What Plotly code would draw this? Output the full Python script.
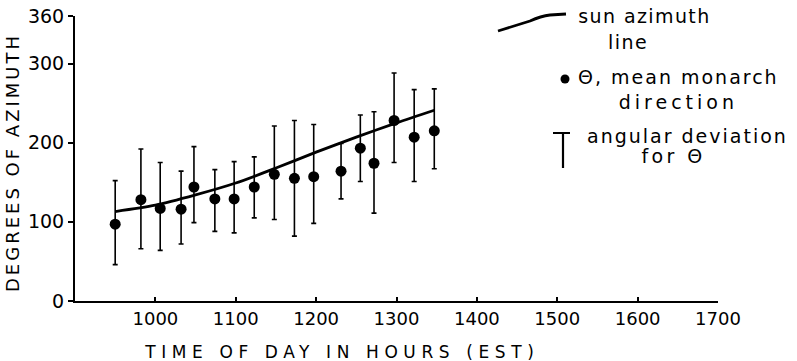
import json
import plotly.graph_objects as go

# ---- data ----
times = [950, 982, 1006, 1032, 1048, 1074, 1098, 1123, 1148, 1173, 1197, 1231, 1255, 1272, 1297, 1322, 1347]
mean_dir = [97, 128, 117, 116, 144, 129, 129, 144, 160, 155, 157, 164, 193, 174, 228, 207, 215]
dev_upper = [152, 192, 175, 164, 195, 166, 176, 182, 221, 228, 223, 199, 235, 239, 288, 267, 268]
dev_lower = [46, 66, 64, 72, 99, 88, 86, 105, 103, 82, 98, 129, 151, 111, 175, 151, 167]

sun_times = [950, 1000, 1050, 1100, 1150, 1200, 1250, 1300, 1347]
sun_azimuth = [113, 121, 134, 149, 168, 188, 207, 225, 241]

x_ticks = [1000, 1100, 1200, 1300, 1400, 1500, 1600, 1700]
y_ticks = [0, 100, 200, 300, 360]

W, H = 797, 361
ML, MR, MT, MB = 75, 79, 16, 60
FONT = "DejaVu Sans"


def px(xp):
    return (xp - ML) / (W - ML - MR)


def py(yp):
    return (H - MB - yp) / (H - MT - MB)


err_plus = [u - m for u, m in zip(dev_upper, mean_dir)]
err_minus = [m - l for m, l in zip(mean_dir, dev_lower)]

fig = go.Figure()
fig.add_trace(go.Scatter(
    x=times, y=mean_dir, mode="markers",
    marker=dict(color="black", size=11),
    error_y=dict(type="data", symmetric=False, array=err_plus, arrayminus=err_minus,
                 color="black", thickness=1.6, width=2.5),
    showlegend=False, hoverinfo="skip",
))
fig.add_trace(go.Scatter(
    x=sun_times, y=sun_azimuth, mode="lines",
    line=dict(color="black", width=2.8, shape="spline", smoothing=0.8),
    showlegend=False, hoverinfo="skip",
))

# legend graphics
shapes = [
    dict(type="path", xref="paper", yref="paper",
         path=(f"M {px(498)},{py(31)} L {px(530)},{py(21)} Q {px(541)},{py(16)} {px(550)},{py(15)} "
               f"L {px(566)},{py(14)}"),
         line=dict(color="black", width=2.8)),
    dict(type="circle", xref="paper", yref="paper",
         x0=px(560.5), x1=px(569.5), y0=py(83.5), y1=py(74.5),
         fillcolor="black", line=dict(color="black", width=0)),
    dict(type="line", xref="paper", yref="paper",
         x0=px(553), x1=px(570), y0=py(133), y1=py(133), line=dict(color="black", width=2)),
    dict(type="line", xref="paper", yref="paper",
         x0=px(563), x1=px(563), y0=py(133), y1=py(168), line=dict(color="black", width=2.2)),
]

legend_texts = [
    ("sun azimuth", 644, 16, 19, 1.4),
    ("line", 628, 42, 19, 1.5),
    ("angular deviation", 687, 136, 19, 2.0),
    ("for Θ", 673, 156, 19, 3.4),
]

annotations = []
spacing = {}
for txt, cx, cy, fs, ls in legend_texts:
    annotations.append(dict(text=txt, x=px(cx), y=py(cy), xref="paper", yref="paper",
                            xanchor="center", yanchor="middle", showarrow=False,
                            font=dict(family=FONT, size=fs, color="black")))
    spacing[txt] = ls

# two-line legend entry for the mean direction
annotations.append(dict(text="Θ, mean monarch<br>direction", x=px(678), y=py(89),
                        xref="paper", yref="paper", xanchor="center", yanchor="middle",
                        align="center", showarrow=False,
                        font=dict(family=FONT, size=19, color="black")))
spacing["Θ, mean monarch"] = 2.0
spacing["direction"] = 4.0

x_title = "TIME OF DAY IN HOURS (EST)"
y_title = "DEGREES OF AZIMUTH"
annotations.append(dict(text=x_title, x=px(342), y=py(352), xref="paper", yref="paper",
                        xanchor="center", yanchor="middle", showarrow=False,
                        font=dict(family=FONT, size=17, color="black")))
spacing[x_title] = 5.6
annotations.append(dict(text=y_title, x=px(12), y=py(163), xref="paper", yref="paper",
                        xanchor="center", yanchor="middle", showarrow=False, textangle=-90,
                        font=dict(family=FONT, size=18, color="black")))
spacing[y_title] = 3.0

fig.update_layout(
    width=W, height=H,
    margin=dict(l=ML, r=MR, t=MT, b=MB, autoexpand=False),
    paper_bgcolor="white", plot_bgcolor="white",
    font=dict(family=FONT, color="black"),
    shapes=shapes, annotations=annotations,
    xaxis=dict(range=[900, 1700], tickvals=x_ticks, ticktext=[str(v) for v in x_ticks],
               showgrid=False, zeroline=False, showline=True, linecolor="black", linewidth=2,
               ticks="inside", ticklen=4, tickwidth=1.5, tickcolor="black", automargin=False,
               tickfont=dict(family=FONT, size=18, color="black")),
    yaxis=dict(range=[0, 360], tickvals=y_ticks, ticktext=[str(v) for v in y_ticks],
               showgrid=False, zeroline=False, showline=True, linecolor="black", linewidth=2,
               ticks="outside", ticklen=5, tickwidth=1.5, tickcolor="black", automargin=False,
               tickfont=dict(family=FONT, size=19, color="black")),
)

post = """
document.body.style.margin = '0';
document.body.style.padding = '0';
var gd = document.getElementById('{plot_id}');
var sp = SPACING;
function applyLS(){
  gd.querySelectorAll('.annotation-text, .annotation-text tspan').forEach(function(t){
    var k = t.textContent;
    if (Object.prototype.hasOwnProperty.call(sp, k)) { t.style.letterSpacing = sp[k] + 'px'; }
  });
}
applyLS();
gd.on('plotly_afterplot', applyLS);
""".replace("SPACING", json.dumps(spacing, ensure_ascii=False))

fig.write_html("out.html", post_script=post, config={"displayModeBar": False})
